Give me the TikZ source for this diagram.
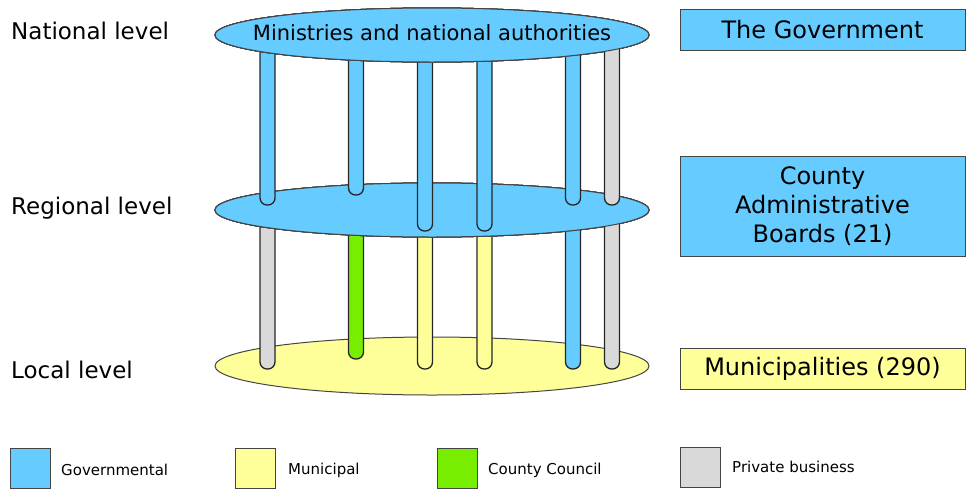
\documentclass[tikz,border=0pt]{standalone}
\usepackage{fontspec}
\setmainfont{DejaVu Sans}
\usetikzlibrary{shapes.geometric}
\definecolor{govblue}{HTML}{66CCFF}
\definecolor{munyellow}{HTML}{FFFF99}
\definecolor{cclgreen}{HTML}{77EE00}
\definecolor{privgray}{HTML}{D9D9D9}
\definecolor{edgegray}{HTML}{444444}
\tikzset{
  levelplate/.style={ellipse,draw=edgegray,line width=1pt,minimum width=434pt,minimum height=54pt,inner sep=0pt},
  pillarline/.style={draw=black!85,line width=1.3pt},
  infobox/.style={draw=edgegray,line width=1pt,minimum width=285pt,inner sep=0pt,align=center,font=\fontsize{24}{29}\selectfont},
  levellabel/.style={anchor=base west,inner sep=0pt,font=\fontsize{23}{28}\selectfont},
  swatch/.style={draw=edgegray,line width=1pt,minimum width=40pt,minimum height=40pt,inner sep=0pt},
  legendtext/.style={anchor=west,inner sep=0pt,font=\fontsize{15}{18}\selectfont}
}
\newcommand{\pillar}[4]{\filldraw[pillarline,fill=#4,rounded corners=7pt] (#1-7.5,#2) -- (#1-7.5,#3) -- (#1+7.5,#3) -- (#1+7.5,#2);}
\begin{document}
\begin{tikzpicture}[x=1pt,y=-1pt]
	\useasboundingbox (0,0) rectangle (966,488);
	% levels on the left
	\node[levellabel] (lnat) at (11,39) {National level};
	\node[levellabel] (lreg) at (11,214) {Regional level};
	\node[levellabel] (lloc) at (11,378) {Local level};
	% plates and pillars, back to front
	\node[levelplate,fill=munyellow,minimum height=58pt] (local) at (432,366) {};
	\foreach \px/\py/\c in {267.5/369/privgray,356/359/cclgreen,425/369/munyellow,484.5/369/munyellow,573/369/govblue,612/369/privgray}
		\pillar{\px}{210}{\py}{\c}
	\node[levelplate,fill=govblue] (regional) at (432,210) {};
	\foreach \px/\py/\c in {267.5/205/govblue,356/195/govblue,425/231/govblue,484.5/231/govblue,573/205/govblue,612/205/privgray}
		\pillar{\px}{35}{\py}{\c}
	\node[levelplate,fill=govblue] (national) at (432,35) {};
	\node[inner sep=0pt,font=\fontsize{21}{25}\selectfont] (nattext) at (432,33) {Ministries and national authorities};
	% boxes on the right
	\node[infobox,fill=govblue,minimum height=41pt] (gov) at (822.5,29.5) {The Government};
	\node[infobox,fill=govblue,minimum height=100pt] (cab) at (822.5,206) {County\\Administrative\\Boards (21)};
	\node[infobox,fill=munyellow,minimum height=41pt] (mun) at (822.5,368.5) {Municipalities (290)};
	% legend
	\node[swatch,fill=govblue] (sgov) at (30,468) {};
	\node[legendtext] (tgov) at (61,470) {Governmental};
	\node[swatch,fill=munyellow] (smun) at (255,468) {};
	\node[legendtext] (tmun) at (288,470) {Municipal};
	\node[swatch,fill=cclgreen] (sccl) at (457,468) {};
	\node[legendtext] (tccl) at (488,470) {County Council};
	\node[swatch,fill=privgray] (spriv) at (700,467) {};
	\node[legendtext] (tpriv) at (732,467) {Private business};
\end{tikzpicture}
\end{document}
